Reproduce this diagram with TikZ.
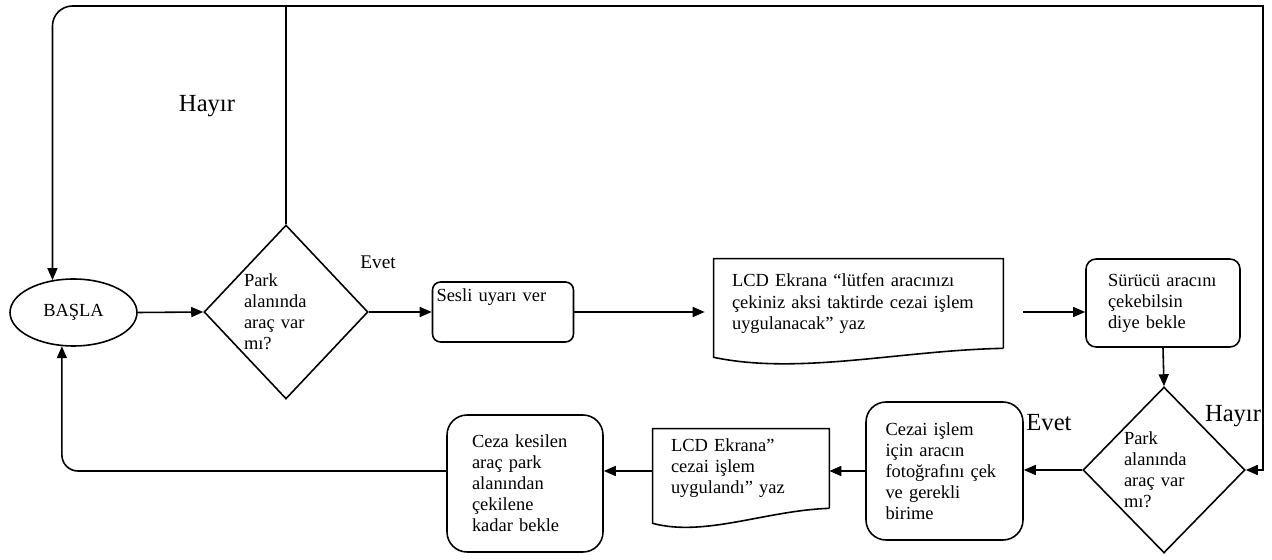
\documentclass[tikz,border=0pt]{standalone}
\usepackage{fontspec}
\setmainfont{Liberation Serif}
\usetikzlibrary{shapes.geometric,arrows.meta,calc}

\begin{document}
\begin{tikzpicture}[x=0.02cm, y=-0.02cm,
  >={Triangle[length=0.24cm,width=0.2cm]},
  cizgi/.style={line width=0.9pt},
  yazi/.style={font=\fontsize{10.5}{12}\selectfont, align=left, inner sep=0pt},
  kutu/.style={yazi, draw, cizgi, rectangle},
  karar/.style={yazi, draw, cizgi, diamond, aspect=0.95},
  belge/.style={yazi, rectangle},
  etiket/.style={font=\fontsize{14}{16}\selectfont, inner sep=0pt}]

\useasboundingbox (0,0) rectangle (1272,560);

%basla
\node[yazi, draw, cizgi, ellipse, minimum width=2.54cm, minimum height=1.34cm] (basla) at (73.5,312.5) {BAŞLA};

%ust sira
\node[karar, minimum width=3.28cm, minimum height=3.48cm, text width=1.68cm] (karar1) at (286,312) {Park\\alanında\\araç var\\mı?};
\node[kutu, rounded corners=0.16cm, text width=2.66cm, inner xsep=0.08cm, text height=0.4cm, text depth=0.8cm] (uyari) at (503,312) {Sesli uyarı ver};
\node[belge, minimum width=5.78cm, minimum height=1.78cm, text width=5.06cm] (belge1) at (858.5,303.5) {LCD Ekrana “lütfen aracınızı\\çekiniz aksi taktirde cezai işlem\\uygulanacak” yaz};
\draw[cizgi] (belge1.south east) -- (belge1.north east) -- (belge1.north west) -- ($(belge1.south west)+(0,9)$) .. controls +(86,18) and +(-103,2) .. (belge1.south east);
\node[kutu, rounded corners=0.2cm, minimum width=3.08cm, minimum height=1.76cm, text width=2.2cm] (surucu) at (1163,303) {Sürücü aracını\\çekebilsin\\diye bekle};

%alt sira
\node[karar, minimum width=3.24cm, minimum height=3.32cm, text width=1.6cm] (karar2) at (1164,470) {Park\\alanında\\araç var\\mı?};
\node[kutu, rounded corners=0.4cm, minimum width=3.14cm, minimum height=2.76cm, text width=2.36cm] (cezai) at (944.5,471) {Cezai işlem\\için aracın\\fotoğrafını çek\\ve gerekli\\birime};
\node[belge, minimum width=3.52cm, minimum height=1.58cm, text width=2.8cm] (belge2) at (741,468.5) {LCD Ekrana”\\cezai işlem\\uygulandı” yaz};
\draw[cizgi] (belge2.south east) -- (belge2.north east) -- (belge2.north west) -- ($(belge2.south west)+(0,15)$) .. controls +(52,14) and +(-63,2) .. (belge2.south east);
\node[kutu, rounded corners=0.4cm, minimum width=3.12cm, minimum height=2.74cm, text width=2.12cm] (ceza) at (525,483.5) {Ceza kesilen\\araç park\\alanından\\çekilene\\kadar bekle};

%etiketler
\node[etiket] (hayir1) at (207,106) {Hayır};
\node[etiket, font=\fontsize{11}{13}\selectfont] (evet1) at (378,262) {Evet};
\node[etiket] (evet2) at (1049,423) {Evet};
\node[etiket] (hayir2) at (1233,416) {Hayır};

%oklar
\coordinate (ust) at (1263,6);
\draw[cizgi, ->] (basla.east) -- (karar1.west);
\draw[cizgi, ->] (karar1.east) -- (uyari.west);
\draw[cizgi, ->, shorten >=0.18cm] (uyari.east) -- (uyari.east -| belge1.west);
\draw[cizgi, ->, shorten <=0.4cm] (belge1.east |- uyari.east) -- (surucu.west |- uyari.east);
\draw[cizgi, ->] (surucu.south) -- (karar2.north);
\draw[cizgi, ->] (karar2.west) -- (karar2.west -| cezai.east);
\draw[cizgi, ->] (cezai.west) -- (cezai.west -| belge2.east);
\draw[cizgi, ->] (belge2.west |- cezai.west) -- (ceza.east |- cezai.west);
\draw[cizgi, ->, rounded corners=0.32cm] (ceza.west |- cezai.west) -| (basla.251);

%geri donus
\draw[cizgi, ->] (karar1.north) |- (ust) |- (karar2.east);
\draw[cizgi, ->, rounded corners=0.4cm] (karar1.north |- ust) -| (basla.123);

\end{tikzpicture}
\end{document}
